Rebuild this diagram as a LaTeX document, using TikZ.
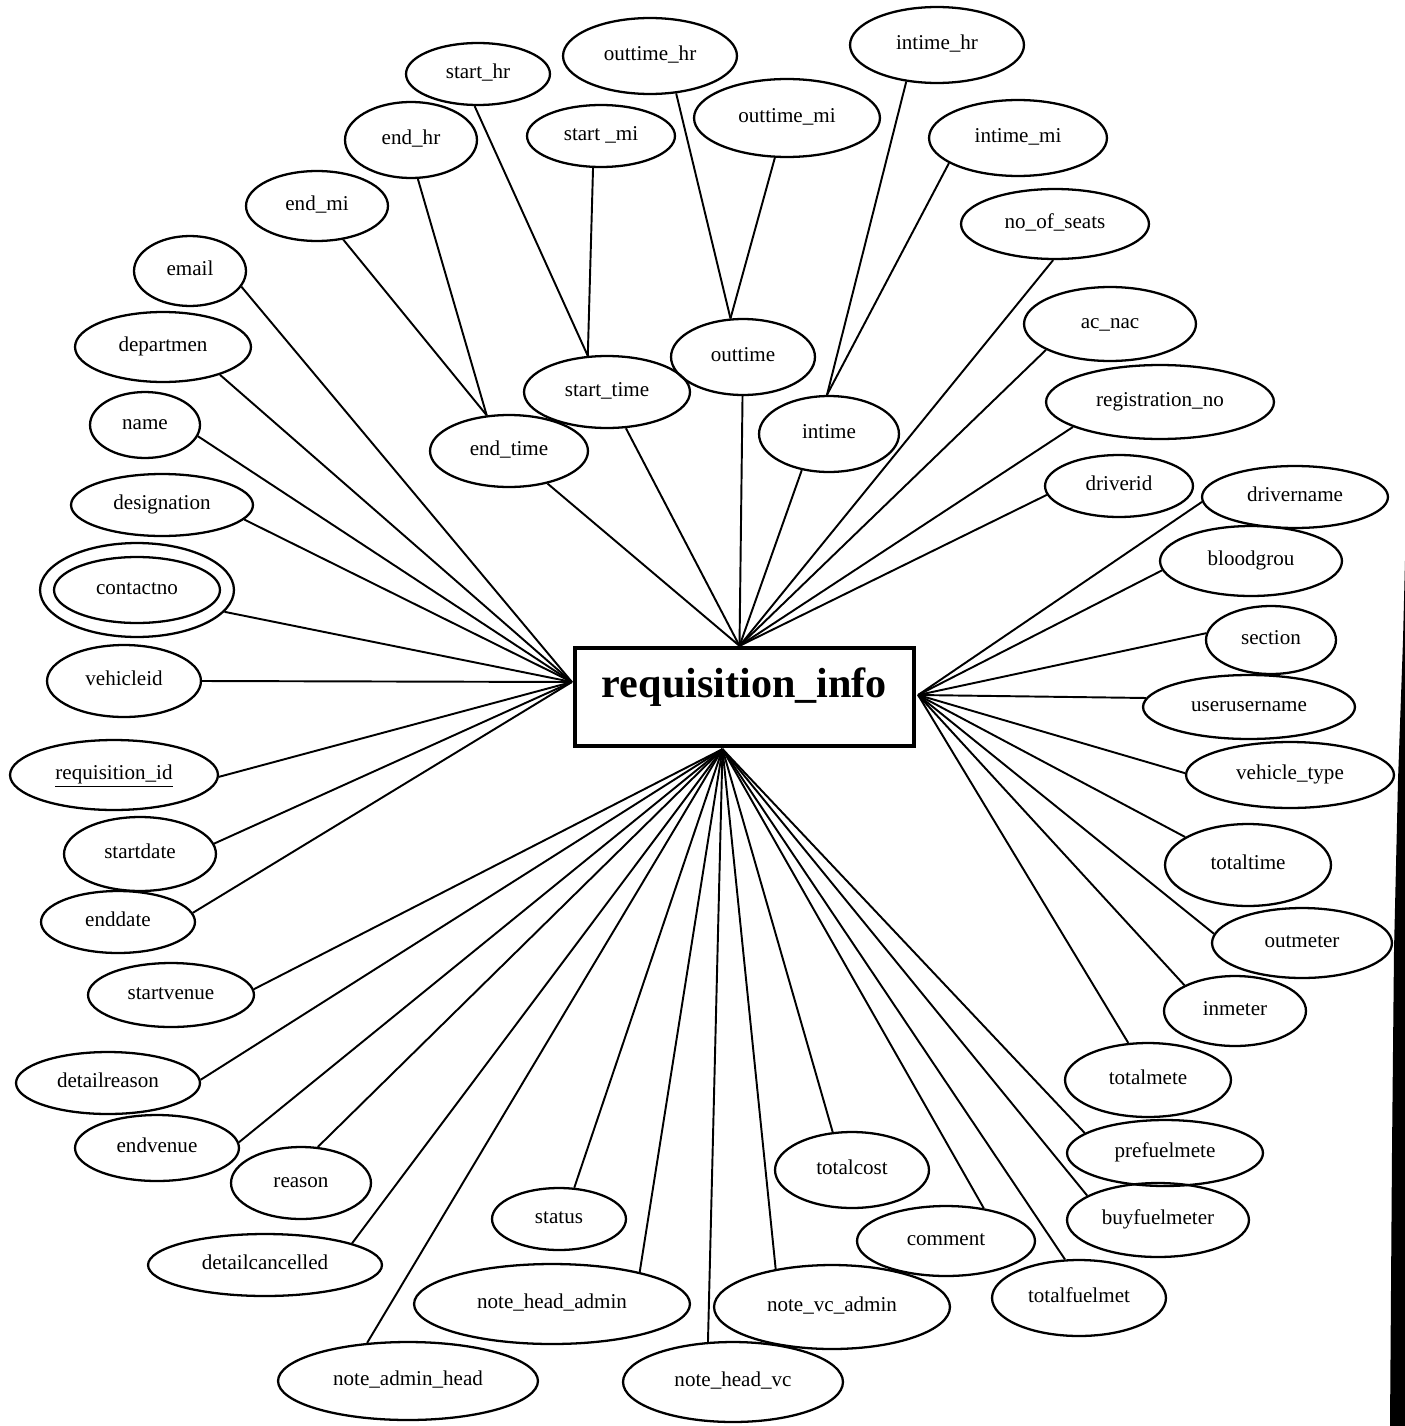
\documentclass[tikz,border=0pt]{standalone}
\usepackage{fontspec}
\setmainfont{Liberation Serif}
\usetikzlibrary{shapes.geometric,calc}

\begin{document}
\begin{tikzpicture}[x=0.02cm,y=-0.02cm,
  attr/.style 2 args={ellipse, draw, line width=1.3pt, inner sep=0pt,
    minimum width={#1*0.04cm}, minimum height={#2*0.04cm},
    font=\fontsize{12}{14}\selectfont, text height=7.8pt, text depth=2.9pt},
  link/.style={line width=1.1pt},
  entity/.style={draw, line width=2.4pt, inner sep=0pt,
    minimum width={339*0.02cm}, minimum height={98*0.02cm},
    font=\fontsize{24}{28}\selectfont\bfseries, text height=16pt, text depth=16pt}]

\fill[white] (0,0) rectangle (1405,1426);
\useasboundingbox (0,0) rectangle (1405,1426);

% entity
\node[entity] (R) at (744.5,697) {requisition\_info};
\coordinate (Rt) at ($(R.north)+(-5,0)$);
\coordinate (Rl) at ($(R.west)+(-1,-15)$);
\coordinate (Rr) at ($(R.east)+(2,-2)$);
\coordinate (Rb) at ($(R.south)+(-22,1)$);

% time components
\node[attr={72}{31}] (sh) at (478,74) {start\_hr};
\node[attr={87}{38}] (oh) at (650,56) {outtime\_hr};
\node[attr={87}{38}] (ih) at (937,45) {intime\_hr};
\node[attr={66}{38}] (eh) at (411,140) {end\_hr};
\node[attr={74}{31}] (sm) at (601,136) {start \_mi};
\node[attr={93}{39}] (om) at (787,118) {outtime\_mi};
\node[attr={89}{38}] (im) at (1018,138) {intime\_mi};
\node[attr={71}{35}] (em) at (317,206) {end\_mi};

% composite time attributes
\node[attr={83}{36}] (st) at (607,392) {start\_time};
\node[attr={79}{36}] (et) at (509,451) {end\_time};
\node[attr={72}{38}] (ot) at (743,357) {outtime};
\node[attr={70}{38}] (it) at (829,434) {intime};

% upper right
\node[attr={94}{35}] (ns) at (1055,224) {no\_of\_seats};
\node[attr={86}{37}] (ac) at (1110,324) {ac\_nac};
\node[attr={114}{37}] (reg) at (1160,402) {registration\_no};
\node[attr={74}{31}] (did) at (1119,486) {driverid};

% left side
\node[attr={56}{35}] (email) at (190,271) {email};
\node[attr={88}{35}] (dep) at (163,347) {departmen};
\node[attr={55}{33}] (nm) at (145,425) {name};
\node[attr={91}{31}] (des) at (162,505) {designation};
\node[attr={97}{47}] (cn) at (137,590) {};
\node[attr={83}{33}] (cni) at (137,590) {contactno};
\node[attr={77}{36}] (vid) at (124,681) {vehicleid};
\node[attr={104}{35}] (rid) at (114,775) {\underline{requisition\_id}};
\node[attr={76}{37}] (sd) at (140,854) {startdate};
\node[attr={77}{31}] (ed) at (118,922) {enddate};

% right side
\node[attr={93}{31}] (dn) at (1295,497) {drivername};
\node[attr={91}{35}] (bg) at (1251,561) {bloodgrou};
\node[attr={65}{34}] (sec) at (1271,640) {section};
\node[attr={106}{32}] (uu) at (1249,707) {userusername};
\node[attr={104}{33}] (vt) at (1290,775) {vehicle\_type};
\node[attr={83}{41}] (tt) at (1248,865) {totaltime};
\node[attr={90}{35}] (omt) at (1302,943) {outmeter};
\node[attr={71}{35}] (inm) at (1235,1011) {inmeter};
\node[attr={83}{37}] (tm) at (1148,1080) {totalmete};

% lower side
\node[attr={83}{32}] (sv) at (171,995) {startvenue};
\node[attr={92}{31}] (dr) at (108,1083) {detailreason};
\node[attr={82}{33}] (ev) at (157,1148) {endvenue};
\node[attr={70}{36}] (rs) at (301,1183) {reason};
\node[attr={117}{31}] (dc) at (265,1265) {detailcancelled};
\node[attr={130}{39}] (nah) at (408,1381) {note\_admin\_head};
\node[attr={67}{31}] (sts) at (559,1219) {status};
\node[attr={138}{40}] (nha) at (552,1304) {note\_head\_admin};
\node[attr={110}{40}] (nhv) at (733,1382) {note\_head\_vc};
\node[attr={118}{42}] (nva) at (832,1307) {note\_vc\_admin};
\node[attr={77}{38}] (tc) at (852,1170) {totalcost};
\node[attr={89}{35}] (cm) at (946,1241) {comment};
\node[attr={87}{38}] (tf) at (1079,1298) {totalfuelmet};
\node[attr={91}{37}] (bf) at (1158,1220) {buyfuelmeter};
\node[attr={98}{33}] (pf) at (1165,1153) {prefuelmete};

% components to composites
\draw[link] (sh.-96) -- (st.118);
\draw[link] (sm.-104) -- (st.118);
\draw[link] (eh.-80) -- (et.122);
\draw[link] (em.-52) -- (et.122);
\draw[link] (oh.-55) -- (ot.108);
\draw[link] (om.-107) -- (ot.108);
\draw[link] (ih.-130) -- (it.93);
\draw[link] (im.-160) -- (it.93);

% attributes meeting the top of the entity
\draw[link] (st) -- (Rt);
\draw[link] (et) -- (Rt);
\draw[link] (ot) -- (Rt);
\draw[link] (it.-127) -- (Rt);
\draw[link] (ns.-93) -- (Rt);
\draw[link] (ac.-158) -- (Rt);
\draw[link] (reg.-164) -- (Rt);
\draw[link] (did.-173) -- (Rt);

% attributes meeting the left side
\draw[link] (email.-17) -- (Rl);
\draw[link] (dep.-26) -- (Rl);
\draw[link] (nm.-12) -- (Rl);
\draw[link] (des.-10) -- (Rl);
\draw[link] (cn.-14) -- (Rl);
\draw[link] (vid.0) -- (Rl);
\draw[link] (rid.-1) -- (Rl);
\draw[link] (sd.8) -- (Rl);
\draw[link] (ed.7) -- (Rl);

% attributes meeting the right side
\draw[link] (dn.-177) -- (Rr);
\draw[link] (bg.-174) -- (Rr);
\draw[link] (sec.174) -- (Rr);
\draw[link] (uu.175) -- (Rr);
\draw[link] (vt.179) -- (Rr);
\draw[link] (tt.156) -- (Rr);
\draw[link] (omt.174) -- (Rr);
\draw[link] (inm.153) -- (Rr);
\draw[link] (tm.118) -- (Rr);

% attributes meeting the bottom
\draw[link] (sv.4) -- (Rb);
\draw[link] (dr.2) -- (Rb);
\draw[link] (ev.4) -- (Rb);
\draw[link] (rs.65) -- (Rb);
\draw[link] (dc.14) -- (Rb);
\draw[link] (nah.137) -- (Rb);
\draw[link] (sts.64) -- (Rb);
\draw[link] (nha.20) -- (Rb);
\draw[link] (nhv.122) -- (Rb);
\draw[link] (nva.146) -- (Rb);
\draw[link] (tc.117) -- (Rb);
\draw[link] (cm.41) -- (Rb);
\draw[link] (tf.110) -- (Rb);
\draw[link] (bf.161) -- (Rb);
\draw[link] (pf.166) -- (Rb);

% dark strip along the right margin
\fill[black] (1405,560) -- (1403,640) -- (1398,780) -- (1394,950)
  -- (1392,1150) -- (1390,1426) -- (1405,1426) -- cycle;
\end{tikzpicture}
\end{document}
